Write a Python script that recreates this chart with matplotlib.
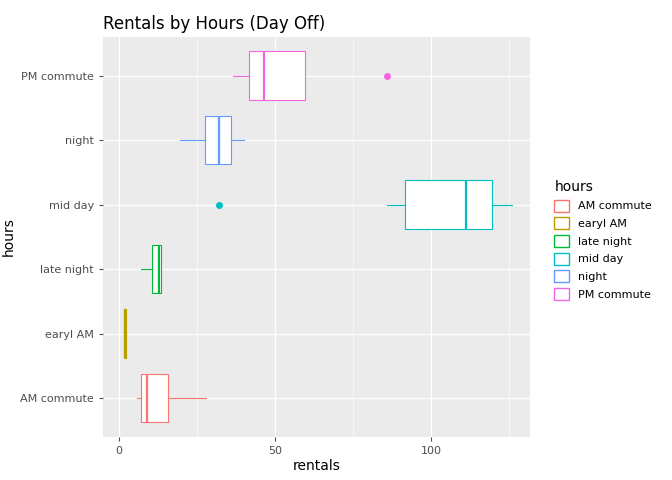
import matplotlib.pyplot as plt
from matplotlib.patches import Patch

hours = ['AM commute', 'earyl AM', 'late night', 'mid day', 'night', 'PM commute']
colors = ['#F8766D', '#B79F00', '#00BA38', '#00BFC4', '#619CFF', '#F564E3']
whislo = [6, 2, 7, 86, 19.5, 36.5]
q1 = [7, 1.8, 10.5, 91.7, 27.5, 41.7]
med = [9, 2, 13, 111, 32, 46.5]
q3 = [15.7, 2.3, 13.5, 119.5, 36, 59.6]
whishi = [28, 2.3, 13.5, 126, 40, 59.6]
fliers = [[], [], [], [32], [], [86]]

fig = plt.figure(figsize=(6.72, 4.8), dpi=100)
ax = fig.add_axes([0.153, 0.09, 0.636, 0.833])
ax.set_facecolor('#EBEBEB')
for s in ax.spines.values():
    s.set_visible(False)

for i, h in enumerate(hours):
    st = dict(whislo=whislo[i], q1=q1[i], med=med[i], q3=q3[i], whishi=whishi[i], fliers=fliers[i])
    c = colors[i]
    ax.bxp([st], positions=[i + 1], widths=0.75, vert=False, patch_artist=True, showcaps=False,
           boxprops=dict(facecolor='white', edgecolor=c, linewidth=0.8),
           medianprops=dict(color=c, linewidth=1.6),
           whiskerprops=dict(color=c, linewidth=0.8),
           flierprops=dict(marker='o', markerfacecolor=c, markeredgecolor=c, markersize=4),
           zorder=3)

ax.set_xlim(-5.1, 131.7)
ax.set_ylim(0.4, 6.6)
ax.set_xticks([0, 50, 100])
ax.set_xticks([25, 75, 125], minor=True)
ax.set_yticks(range(1, 7))
ax.set_yticklabels(hours)
ax.grid(True, which='major', color='white', linewidth=0.9, zorder=0)
ax.grid(True, which='minor', axis='x', color='white', linewidth=0.4, zorder=0)
ax.set_axisbelow(True)
ax.tick_params(colors='#4D4D4D', labelsize=8, length=3)
ax.tick_params(axis='y', labelcolor='#4D4D4D')
ax.tick_params(which='minor', length=0)
ax.set_xlabel('rentals', fontsize=10, labelpad=2)
ax.set_ylabel('hours', fontsize=10, labelpad=3)
ax.set_title('Rentals by Hours (Day Off)', fontsize=12, loc='left')

handles = [Patch(facecolor='white', edgecolor=c, label=h) for h, c in zip(hours, colors)]
leg = fig.legend(handles=handles, title='hours', loc='center left', bbox_to_anchor=(0.81, 0.5),
                 frameon=False, fontsize=8, title_fontsize=10, handlelength=1.3, handleheight=1.3)
leg._legend_box.align = 'left'

fig.savefig('out.png', dpi=100)
